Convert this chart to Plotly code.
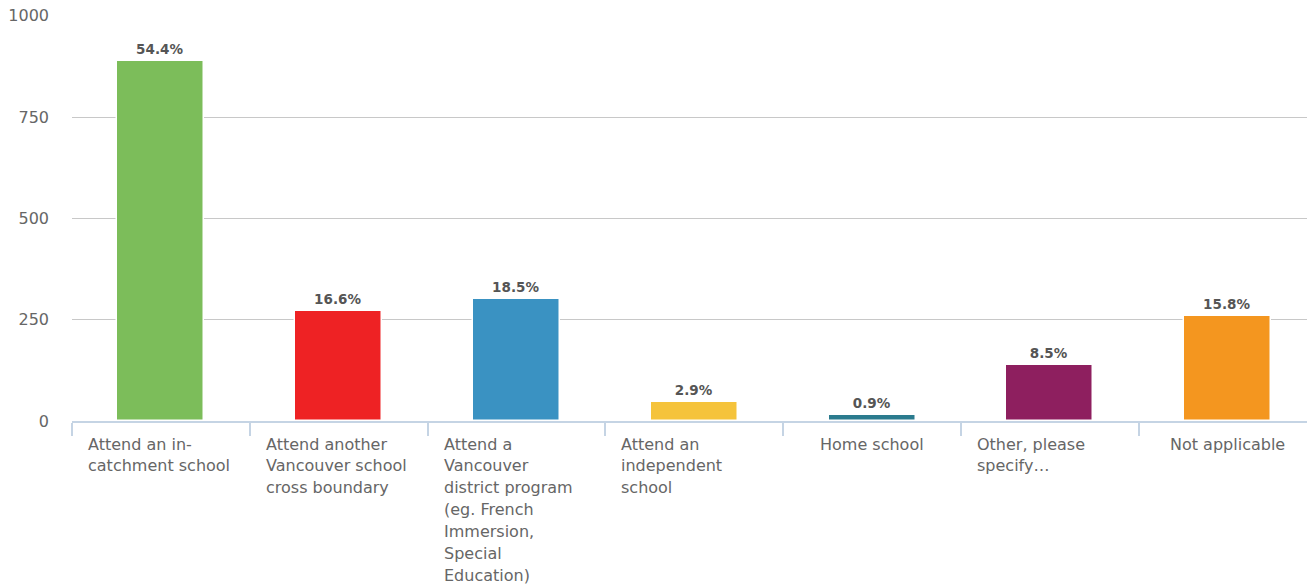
import plotly.graph_objects as go

# Survey responses: share of respondents per option (multiple answers allowed)
respondents = 1634
options = [
    ["Attend an in-", "catchment school"],
    ["Attend another", "Vancouver school", "cross boundary"],
    ["Attend a", "Vancouver", "district program", "(eg. French", "Immersion,", "Special", "Education)"],
    ["Attend an", "independent", "school"],
    ["Home school"],
    ["Other, please", "specify\u2026"],
    ["Not applicable"],
]
share_pct = [54.4, 16.6, 18.5, 2.9, 0.9, 8.5, 15.8]
bar_colors = ["#7cbd5a", "#ee2224", "#3a92c2", "#f5c33b", "#2b7b8e", "#8e1f5f", "#f4961f"]
y_ticks = [0, 250, 500, 750, 1000]

counts = [p * respondents / 100 for p in share_pct]
categories = [" ".join(lines) for lines in options]

fig = go.Figure()
fig.add_trace(go.Bar(
    x=categories,
    y=counts,
    width=0.49,
    marker=dict(color=bar_colors, line=dict(color="white", width=1.5)),
    text=[f"{p:.1f}%" for p in share_pct],
    textposition="outside",
    cliponaxis=False,
    textfont=dict(family="DejaVu Sans", size=13.5, color="#555555", weight="bold"),
    hoverinfo="skip",
))

# Category labels under the axis: wrapped labels are left-aligned in their slot,
# single-line labels are centred.
label_font = dict(family="DejaVu Sans", size=16, color="#666666")
annotations = []
for i, lines in enumerate(options):
    for k, line in enumerate(lines):
        wrapped = len(lines) > 1
        annotations.append(dict(
            text=line,
            x=(i - 0.5) if wrapped else i,
            xref="x",
            xanchor="left" if wrapped else "center",
            xshift=14 if wrapped else 0,
            y=0, yref="paper",
            yanchor="middle",
            yshift=-(23 + 21.9 * k),
            showarrow=False,
            font=label_font,
        ))

fig.update_layout(
    width=1307, height=586,
    margin=dict(l=72, r=0, t=15, b=165),
    plot_bgcolor="white", paper_bgcolor="white",
    showlegend=False,
    bargap=0,
    annotations=annotations,
    xaxis=dict(
        type="category",
        range=[-0.5, 6.446],
        showticklabels=False,
        tickson="boundaries",
        ticks="outside", ticklen=13, tickcolor="#c5d4e4", tickwidth=1.5,
        showline=True, linecolor="#c5d4e4", linewidth=1.5,
        showgrid=False, zeroline=False,
        fixedrange=True,
    ),
    yaxis=dict(
        range=[0, 1002],
        tickmode="array", tickvals=y_ticks,
        tickfont=dict(family="DejaVu Sans", size=16, color="#666666"),
        ticklabelstandoff=22,
        showgrid=True, gridcolor="#c8c8c8", gridwidth=1,
        zeroline=False, showline=False,
        fixedrange=True,
    ),
)

fig.write_html("out.html")
